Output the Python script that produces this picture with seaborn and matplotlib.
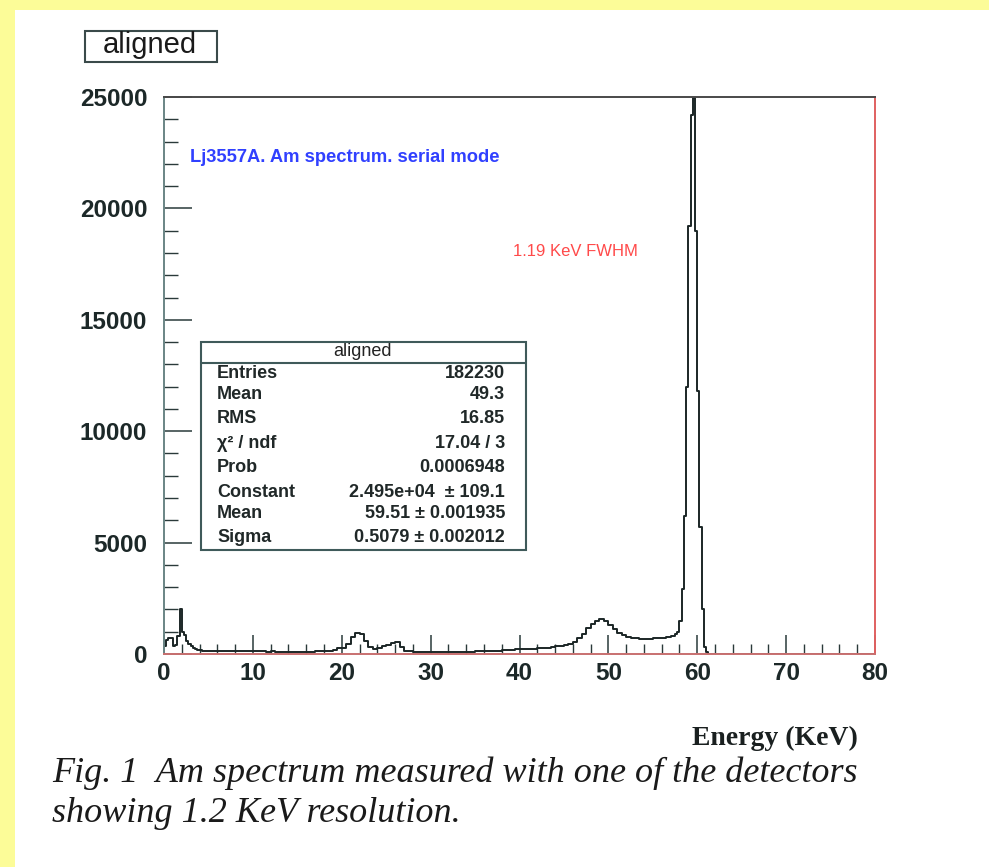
import numpy as np
import pandas as pd
import matplotlib
matplotlib.use("Agg")
import matplotlib.pyplot as plt
from matplotlib.patches import Rectangle
from matplotlib.lines import Line2D
from matplotlib.ticker import MultipleLocator
import seaborn as sns

# ---- spectrum: bin left edges (keV) and counts per bin ----
fine_lo = [0.00, 0.25, 0.50, 0.75, 1.00, 1.25, 1.50, 1.75, 2.00, 2.25,
           2.50, 2.75, 3.00, 3.25, 3.50, 3.75, 4.00, 4.25, 4.50, 4.75]
fine_counts = [350, 650, 700, 720, 350, 400, 800, 2000, 1000, 850,
               600, 450, 350, 280, 230, 200, 170, 150, 140, 130]

low_lo = [5.0, 5.5, 6.0, 6.5, 7.0, 7.5, 8.0, 8.5, 9.0, 9.5,
          10.0, 10.5, 11.0, 11.5, 12.0, 12.5, 13.0, 13.5, 14.0, 14.5,
          15.0, 15.5, 16.0, 16.5, 17.0, 17.5, 18.0, 18.5, 19.0, 19.5]
low_counts = [150, 140, 145, 135, 130, 135, 125, 120, 125, 120,
              115, 120, 115, 110, 115, 110, 112, 108, 110, 105,
              110, 108, 105, 110, 115, 120, 130, 150, 190, 260]

mid_lo = [20.0, 20.5, 21.0, 21.5, 22.0, 22.5, 23.0, 23.5, 24.0, 24.5,
          25.0, 25.5, 26.0, 26.5, 27.0, 27.5,
          28.0, 28.5, 29.0, 29.5, 30.0, 30.5, 31.0, 31.5, 32.0, 32.5,
          33.0, 33.5, 34.0, 34.5, 35.0, 35.5, 36.0, 36.5, 37.0, 37.5,
          38.0, 38.5, 39.0, 39.5, 40.0, 40.5, 41.0, 41.5]
mid_counts = [250, 450, 750, 950, 900, 600, 300, 220, 250, 380,
              420, 480, 540, 300, 150, 120,
              110, 105, 100, 100, 95, 100, 95, 100, 105, 100,
              100, 110, 105, 110, 115, 120, 125, 130, 140, 150,
              160, 175, 190, 205, 215, 225, 235, 245]

bump_lo = [42.0, 42.5, 43.0, 43.5, 44.0, 44.5, 45.0, 45.5, 46.0, 46.5,
           47.0, 47.5, 48.0, 48.5, 49.0, 49.5, 50.0, 50.5, 51.0, 51.5,
           52.0, 52.5, 53.0, 53.5, 54.0, 54.5, 55.0, 55.5, 56.0, 56.5, 57.0]
bump_counts = [250, 270, 290, 310, 340, 360, 400, 470, 560, 720,
               920, 1150, 1330, 1480, 1560, 1500, 1320, 1130, 950, 840,
               760, 720, 700, 690, 690, 695, 700, 710, 720, 750, 800]

peak_lo = [57.50, 57.75, 58.00, 58.25, 58.50, 58.75, 59.00, 59.25,
           59.50, 59.75, 60.00, 60.25, 60.50, 60.75, 61.00, 61.25]
peak_counts = [880, 1000, 1500, 2900, 6200, 12000, 19200, 24200,
               24950, 19000, 11800, 5700, 2000, 300, 80, 20]

tail_lo = [61.5, 62.0, 62.5, 63.0, 63.5, 64.0, 64.5, 65.0, 65.5, 66.0,
           66.5, 67.0, 67.5, 68.0, 68.5, 69.0, 69.5, 70.0, 70.5, 71.0,
           71.5, 72.0, 72.5, 73.0, 73.5, 74.0, 74.5, 75.0, 75.5, 76.0,
           76.5, 77.0, 77.5, 78.0, 78.5, 79.0, 79.5]
tail_counts = [10, 8, 6, 5, 5, 4, 5, 4, 3, 4,
               3, 3, 4, 3, 3, 2, 3, 2, 3, 2,
               2, 3, 2, 2, 2, 2, 2, 1, 2, 1,
               2, 1, 1, 1, 1, 1, 1]
last_edge = 80.0

x_ticks = [0, 10, 20, 30, 40, 50, 60, 70, 80]
y_ticks = [0, 5000, 10000, 15000, 20000, 25000]

stat_names = ["Entries", "Mean", "RMS", "χ² / ndf", "Prob",
              "Constant", "Mean", "Sigma"]
stat_values = ["182230", "49.3", "16.85", "17.04 / 3", "0.0006948",
               "2.495e+04  ± 109.1", "59.51 ± 0.001935", "0.5079 ± 0.002012"]

# ---- assemble histogram table ----
bin_lo = fine_lo + low_lo + mid_lo + bump_lo + peak_lo + tail_lo
bin_counts = fine_counts + low_counts + mid_counts + bump_counts + peak_counts + tail_counts
bin_edges = bin_lo + [last_edge]
spectrum = pd.DataFrame({
    "energy": [0.5 * (a + b) for a, b in zip(bin_edges[:-1], bin_edges[1:])],
    "counts": [float(c) for c in bin_counts],
})

sns.set_style("white")
plt.rcParams["font.family"] = ["Liberation Sans", "DejaVu Sans"]

W, H = 989, 867
fig = plt.figure(figsize=(W / 100, H / 100), dpi=100)
fig.patch.set_facecolor("white")


def fx(x):
    return x / W


def fy(y):
    return 1 - y / H


# page background strips
yellow = "#fcfc98"
fig.add_artist(Rectangle((0, fy(10)), 1, 10 / H, transform=fig.transFigure,
                         facecolor=yellow, edgecolor="none", zorder=0))
fig.add_artist(Rectangle((0, 0), fx(15), 1, transform=fig.transFigure,
                         facecolor=yellow, edgecolor="none", zorder=0))

ax = fig.add_axes([fx(164), fy(654), fx(875) - fx(164), fy(97) - fy(654)])
ax.set_facecolor("white")

sns.histplot(data=spectrum, x="energy", weights="counts", bins=bin_edges,
             element="step", fill=False, stat="count", color="#1b2626",
             linewidth=1.4, ax=ax)

ax.set_xlim(0, 80)
ax.set_ylim(0, 25000)
ax.set_xlabel("")
ax.set_ylabel("")
ax.set_xticks(x_ticks)
ax.set_yticks(y_ticks)
ax.xaxis.set_minor_locator(MultipleLocator(2))
ax.yaxis.set_minor_locator(MultipleLocator(1000))

tick_color = "#2a3a3a"
ax.tick_params(axis="y", which="major", direction="in", length=20, width=1.1,
               color=tick_color, left=True, right=False, pad=12)
ax.tick_params(axis="y", which="minor", direction="in", length=10, width=1.0,
               color=tick_color, left=True, right=False)
ax.tick_params(axis="x", which="major", direction="in", length=14, width=1.1,
               color=tick_color, bottom=True, top=False, pad=6)
ax.tick_params(axis="x", which="minor", direction="in", length=7, width=1.0,
               color=tick_color, bottom=True, top=False)
for lab in ax.get_xticklabels() + ax.get_yticklabels():
    lab.set_fontsize(17.5)
    lab.set_fontweight("bold")
    lab.set_color("#1c2828")

ax.spines["top"].set_color("#4a4a4a")
ax.spines["right"].set_color("#e06060")
ax.spines["bottom"].set_color("#c87070")
ax.spines["left"].set_color("#6a8585")
for s in ax.spines.values():
    s.set_linewidth(1.4)

# annotations inside the frame
fig.text(fx(190), fy(157), "Lj3557A. Am spectrum. serial mode", color="#3040ff",
         fontsize=13.2, fontweight="bold", va="center", ha="left")
fig.text(fx(513), fy(251), "1.19 KeV FWHM", color="#ff4a4a",
         fontsize=12, va="center", ha="left")

# title box
fig.add_artist(Rectangle((fx(85), fy(62)), fx(217) - fx(85), fy(31) - fy(62),
                         transform=fig.transFigure, facecolor="white",
                         edgecolor="#3a4a4a", linewidth=1.5, zorder=3))
fig.text(fx(150), fy(45), "aligned", fontsize=21, ha="center", va="center",
         color="#1a1a1a", zorder=4)

# statistics box
bx0, bx1, by0, by1 = 201, 526, 342, 550
fig.add_artist(Rectangle((fx(bx0), fy(by1)), fx(bx1) - fx(bx0), fy(by0) - fy(by1),
                         transform=fig.transFigure, facecolor="white",
                         edgecolor="#3f5a5a", linewidth=1.5, zorder=3))
fig.add_artist(Line2D([fx(bx0), fx(bx1)], [fy(363), fy(363)],
                      transform=fig.transFigure, color="#3f5a5a",
                      linewidth=1.5, zorder=4))
fig.text(fx(362), fy(351), "aligned", fontsize=13, ha="center", va="center",
         color="#222222", zorder=5)
row_y = [373, 395, 419, 443, 467, 492, 514, 538]
for yy, name, val in zip(row_y, stat_names, stat_values):
    fig.text(fx(217), fy(yy), name, fontsize=13, fontweight="bold",
             ha="left", va="center", color="#202828", zorder=5)
    fig.text(fx(505), fy(yy), val, fontsize=13, fontweight="bold",
             ha="right", va="center", color="#202828", zorder=5)

# axis title and caption
serif = ["Liberation Serif", "DejaVu Serif"]
fig.text(fx(858), fy(738), "Energy (KeV)", fontsize=20, fontweight="bold",
         family=serif, ha="right", va="center", color="#1a2020")
fig.text(fx(52), fy(773), "Fig. 1  Am spectrum measured with one of the detectors",
         fontsize=26, style="italic", family=serif,
         ha="left", va="center", color="#1a1a1a")
fig.text(fx(52), fy(813), "showing 1.2 KeV resolution.",
         fontsize=26, style="italic", family=serif,
         ha="left", va="center", color="#1a1a1a")

fig.savefig("out.png", dpi=100)
